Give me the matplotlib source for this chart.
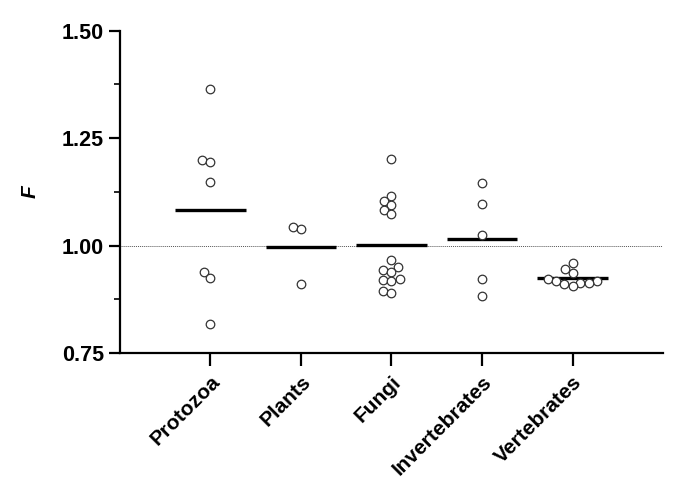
import numpy as np
import matplotlib
matplotlib.use("Agg")
import matplotlib.pyplot as plt

plt.rcParams['font.family'] = ['Liberation Sans', 'DejaVu Sans']

groups = ["Protozoa", "Plants", "Fungi", "Invertebrates", "Vertebrates"]
protozoa = [1.365, 1.198, 1.194, 1.147, 0.938, 0.925, 0.818]
plants = [1.043, 1.039, 0.911]
fungi = [1.202, 1.116, 1.104, 1.095, 1.083, 1.074, 0.967, 0.951, 0.942,
         0.938, 0.921, 0.920, 0.917, 0.893, 0.889]
invertebrates = [1.146, 1.097, 1.025, 0.922, 0.883]
vertebrates = [0.960, 0.946, 0.937, 0.921, 0.918, 0.917, 0.912, 0.912,
               0.911, 0.905]
data = [protozoa, plants, fungi, invertebrates, vertebrates]
yticks = [0.75, 1.00, 1.25, 1.50]


def swarm_offsets(values, px_per_y, diam):
    # greedy beeswarm: lowest value first, each point as close to centre as it fits
    values = np.asarray(values)
    placed = []
    offsets = np.zeros(len(values))
    for i in np.argsort(values):
        y = values[i] * px_per_y
        cands = [0.0]
        for px, py in placed:
            dy = y - py
            if abs(dy) < diam:
                dx = np.sqrt(diam ** 2 - dy ** 2)
                cands += [px - dx, px + dx]
        cands.sort(key=abs)
        for c in cands:
            if all((c - px) ** 2 + (y - py) ** 2 >= diam ** 2 - 1e-6 for px, py in placed):
                break
        placed.append((c, y))
        offsets[i] = c
    return offsets


fig = plt.figure(figsize=(6.85, 4.97), dpi=100)
ax = fig.add_axes([0.175, 0.290, 0.793, 0.648])
ax.set_xlim(0, 6)
ax.set_ylim(0.75, 1.5)

bbox = ax.get_window_extent()
px_x = bbox.width / 6
px_y = bbox.height / 0.75

ax.axhline(1.0, color='#555555', linestyle=(0, (1, 1)), linewidth=0.7, zorder=1)

for k, vals in enumerate(data):
    pos = k + 1
    offs = swarm_offsets(vals, px_y, 8.5)
    ax.scatter(pos + offs / px_x, vals, s=38, facecolor='white',
               edgecolor='#333333', linewidth=0.9, zorder=3)
    ax.hlines(np.mean(vals), pos - 0.39, pos + 0.39, color='black',
              linewidth=2.4, zorder=2)

for side in ['top', 'right']:
    ax.spines[side].set_visible(False)
for side in ['left', 'bottom']:
    ax.spines[side].set_linewidth(1.6)

ax.set_yticks(yticks)
ax.set_yticklabels([f"{t:.2f}" for t in yticks], fontsize=15.5, fontweight='bold')
ax.set_yticks([0.875, 1.125, 1.375], minor=True)
ax.set_xticks(range(1, 6))
ax.set_xticklabels(groups, fontsize=15, fontweight='bold', rotation=45,
                   ha='right', va='top', rotation_mode='anchor')
ax.tick_params(axis='y', which='major', length=8, width=1.6, direction='out')
ax.tick_params(axis='x', which='major', length=9, width=1.6, direction='out', pad=5)
ax.tick_params(axis='y', which='minor', length=4, width=1.2)

ax.set_ylabel('F', fontsize=15, fontweight='bold', fontstyle='italic', labelpad=16)

fig.savefig("out.png", dpi=100)
